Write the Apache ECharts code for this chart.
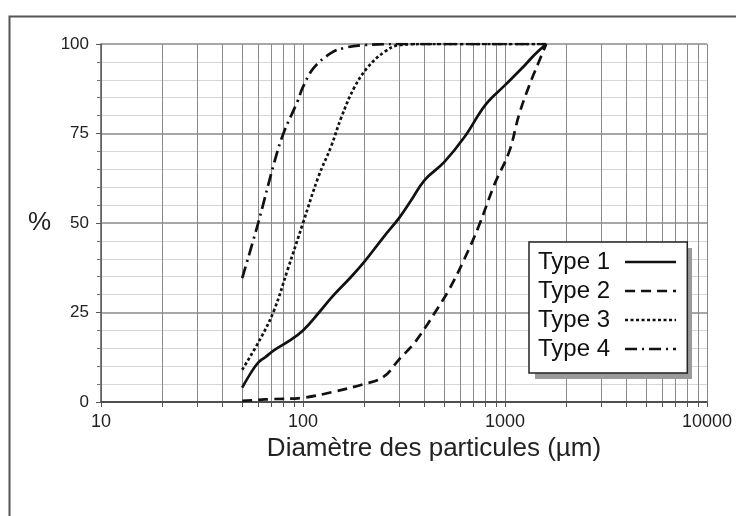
<!DOCTYPE html>
<html>
<head>
<meta charset="utf-8">
<script src="https://cdn.jsdelivr.net/npm/echarts@6/dist/echarts.min.js"></script>
<style>
  html, body { margin: 0; padding: 0; background: #fff; }
  #chart { width: 736px; height: 516px; }
</style>
</head>
<body>
<div id="chart"></div>
<script>
// particle size (µm) and cumulative passing (%)
const type1Size = [50, 55, 60, 65, 72, 85, 100, 120, 140, 170, 200, 250, 300, 340, 400, 500, 630, 800, 1000, 1250, 1400, 1600]
const type1Pct = [4, 8, 11, 12.5, 14.5, 17, 20, 25, 29.5, 34.5, 39, 46, 51.5, 56, 62, 67, 74, 83, 88.5, 94, 97, 100]

const type2Size = [50, 60, 70, 100, 140, 200, 250, 300, 350, 400, 450, 530, 630, 740, 890, 1050, 1170, 1310, 1470, 1600]
const type2Pct = [0.3, 0.6, 0.8, 1.2, 2.8, 5, 7, 12, 16, 20.5, 25, 31.5, 40, 49, 61, 70, 80, 88, 95, 100]

const type3Size = [50, 62, 72, 84, 100, 119, 138, 155, 180, 210, 253, 300, 400, 600, 1000, 1600]
const type3Pct = [9, 18, 25.7, 37, 50, 62.8, 71.5, 79.6, 88, 93.6, 97.8, 99.7, 100, 100, 100, 100]

const type4Size = [50, 60, 72, 80, 94, 100, 113, 138, 160, 200, 300, 600, 1000, 1600]
const type4Pct = [34.6, 50, 66.8, 75, 84, 88, 93.3, 97.5, 98.9, 99.7, 100, 100, 100, 100]

const seriesNames = ['Type 1', 'Type 2', 'Type 3', 'Type 4']
const xLabelValues = [10, 100, 1000, 10000]
const xGridValues = [10, 20, 30, 40, 50, 60, 70, 80, 90,
  100, 200, 300, 400, 500, 600, 700, 800, 900,
  1000, 2000, 3000, 4000, 5000, 6000, 7000, 8000, 9000, 10000]

const font = '"Liberation Sans", Arial, sans-serif'

function pairs(xs, ys) {
  return xs.map((x, i) => [x, ys[i]])
}

function curve(name, xs, ys, type) {
  return {
    name, type: 'line', data: pairs(xs, ys),
    symbol: 'none', smooth: 0.4,
    lineStyle: { color: '#111', width: 2.7, type },
    itemStyle: { color: '#111' }
  }
}

const chart = echarts.init(document.getElementById('chart'))
chart.setOption({
  animation: false,
  backgroundColor: '#fff',
  graphic: [
    {
      type: 'rect', left: 7, top: 14, shape: { width: 740, height: 520 },
      style: { fill: 'none', stroke: '#555', lineWidth: 2 }, silent: true
    },
    // legend drop shadow
    {
      type: 'rect', left: 535, top: 248, z: 3, shape: { width: 157, height: 131 },
      style: { fill: '#9a9a9a' }, silent: true
    }
  ],
  grid: { left: 101, right: 29, top: 44, bottom: 114 },
  legend: {
    data: seriesNames, orient: 'vertical', align: 'right',
    left: 529, top: 242, z: 5,
    itemWidth: 51, itemHeight: 14, itemGap: 5,
    padding: [8, 10, 12, 9],
    backgroundColor: '#fff', borderColor: '#222', borderWidth: 1.5,
    itemStyle: { color: 'rgba(0,0,0,0)', opacity: 0, borderWidth: 0 },
    lineStyle: { width: 2.5 },
    textStyle: { fontFamily: font, fontSize: 24, color: '#111', padding: [0, 10, 0, 0] }
  },
  xAxis: {
    type: 'log', logBase: 10, min: 10, max: 10000,
    name: 'Diamètre des particules (µm)', nameLocation: 'middle', nameGap: 30,
    nameTextStyle: { fontFamily: font, fontSize: 26, color: '#222', padding: [0, 0, 0, 60] },
    axisLine: { onZero: false, lineStyle: { color: '#333', width: 1.5 } },
    axisTick: { show: true, length: 5, customValues: xGridValues, lineStyle: { color: '#555' } },
    axisLabel: {
      customValues: xLabelValues, fontFamily: font, fontSize: 18, color: '#222', margin: 11,
      formatter: v => String(v)
    },
    splitLine: { show: true, lineStyle: { color: '#8a8a8a', width: 1 } },
    minorTick: { show: false }
  },
  yAxis: {
    type: 'value', min: 0, max: 100, interval: 25,
    name: '%', nameLocation: 'middle', nameRotate: 0, nameGap: 50,
    nameTextStyle: { fontFamily: font, fontSize: 26, color: '#222' },
    axisLine: { show: true, lineStyle: { color: '#555', width: 1.5 } },
    axisTick: { show: true, length: 5, lineStyle: { color: '#555' } },
    minorTick: { show: true, splitNumber: 5, length: 4, lineStyle: { color: '#777' } },
    axisLabel: { fontFamily: font, fontSize: 17, color: '#222', margin: 12 },
    splitLine: { show: true, lineStyle: { color: '#8a8a8a', width: 1.5 } },
    minorSplitLine: { show: true, lineStyle: { color: '#d6d6d6', width: 1 } }
  },
  series: [
    curve('Type 1', type1Size, type1Pct, 'solid'),
    curve('Type 2', type2Size, type2Pct, [10, 6]),
    curve('Type 3', type3Size, type3Pct, [3, 2.5]),
    curve('Type 4', type4Size, type4Pct, [12, 5, 2, 5])
  ]
})
</script>
</body>
</html>
